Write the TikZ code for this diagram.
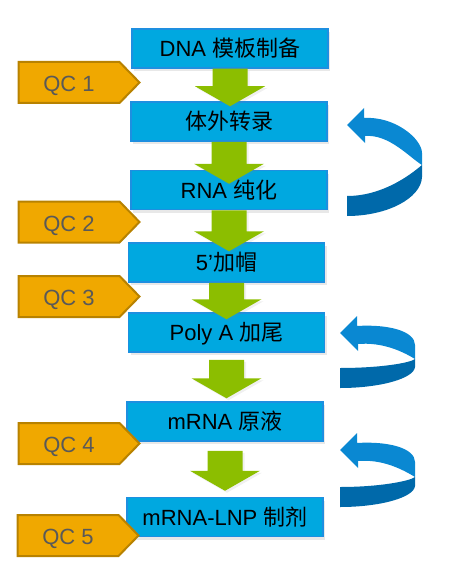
\documentclass[tikz,border=0pt]{standalone}
\usepackage{fontspec}
\setmainfont{Liberation Sans}
\newfontfamily\cjk{Noto Sans CJK SC}
\usepackage{tikz}
\usetikzlibrary{calc,positioning,shadows}
\definecolor{boxblue}{HTML}{00A8E0}
\definecolor{boxedge}{HTML}{1E8FE0}
\definecolor{flowgreen}{HTML}{8CBE00}
\definecolor{qcfill}{HTML}{F0A800}
\definecolor{qcedge}{HTML}{B88200}
\definecolor{qctext}{HTML}{595959}
\definecolor{ribbonlight}{HTML}{0A88D2}
\definecolor{ribbondark}{HTML}{0069AA}
\newcommand{\zh}[1]{{\cjk #1}}
% green block arrow: from node, to node, start offset, tip offset
\newcommand{\flow}[4]{%
  \fill[flowgreen, drop shadow={opacity=0.12, shadow xshift=2pt, shadow yshift=-2pt}]
    let \p1=($(#1.south)+(0,#3)$), \p2=($(#2.north)+(0,#4)$) in
    (\x1-17.5pt,\y1) -- (\x1+17.5pt,\y1) -- (\x1+17.5pt,\y2+20pt) -- (\x1+35pt,\y2+20pt)
    -- (\x1,\y2) -- (\x1-35pt,\y2+20pt) -- (\x1-17.5pt,\y2+20pt) -- cycle;}
% QC tag: name, x, y, label
\newcommand{\qctag}[4]{%
  \filldraw[qcshape] (#2-50.5,#3-20.5) -- (#2+50.5,#3-20.5) -- (#2+70.5,#3)
    -- (#2+50.5,#3+20.5) -- (#2-50.5,#3+20.5) -- cycle;
  \node[qc] (#1) at (#2,#3) {#4};}
% twisted return arrow: tip, outer edge top, twist, dark edge end, band top
\newcommand{\ribbon}[5]{%
  \begin{scope}[shift={#1}]
    \fill[ribbondark] (75,#3) -- (75,#4) .. controls (74,{#4+0.55*(#5+20-#4)}) and (40,#5+20) .. (0,#5+20)
      -- (0,#5) .. controls (40,#5) and (70,#3+4) .. (75,#3) -- cycle;
    \fill[ribbonlight] (0,0) -- (17,-17) -- (17,-7) .. controls (48,-9) and (75,#2-14) .. (75,#2)
      -- (75,#3) .. controls (62,#3-8) and (42,9) .. (18,11) -- (18,18) -- cycle;
  \end{scope}}

\begin{document}
\begin{tikzpicture}[
                    >=latex,
                    x=1pt, y=-1pt,
                    stage/.style={fill=boxblue, draw=boxedge, line width=1.5pt,
                        minimum width=196pt, minimum height=39pt, inner sep=0pt,
                        text height=20pt, text depth=3.6pt, font=\fontsize{22}{26}\selectfont,
                        drop shadow={opacity=0.18, shadow xshift=2pt, shadow yshift=-3pt}},
                    qcshape/.style={fill=qcfill, draw=qcedge, line width=2pt, line join=miter},
                    qc/.style={inner sep=0pt, text height=20pt, text depth=1.6pt,
                        text=qctext, font=\fontsize{22}{26}\selectfont}]

                \useasboundingbox (0,0) rectangle (448,575);

                \draw(230,48.5) node[stage] (dna) {DNA \zh{模板制备}};
                \draw(229,121.5) node[stage] (ivt) {\zh{体外转录}};
                \draw(229,190) node[stage] (pur) {RNA \zh{纯化}};
                \draw(226.5,262.5) node[stage] (cap) {5’\zh{加帽}};
                \draw(226.5,332.5) node[stage] (tail) {Poly A \zh{加尾}};
                \draw(225,421.5) node[stage] (bulk) {mRNA \zh{原液}};
                \draw(225,517) node[stage] (lnp) {mRNA-LNP \zh{制剂}};

                \flow{dna}{ivt}{0}{5}
                \flow{ivt}{pur}{0}{14}
                \flow{pur}{cap}{0}{9}
                \flow{cap}{tail}{0}{7}
                \flow{tail}{bulk}{7}{-3}
                \flow{bulk}{lnp}{9}{-6}

                \qctag{qc1}{69}{82.5}{QC 1}
                \qctag{qc2}{69}{222}{QC 2}
                \qctag{qc3}{69}{296.5}{QC 3}
                \qctag{qc4}{69}{443.5}{QC 4}
                \qctag{qc5}{68}{535.5}{QC 5}

                \ribbon{(347,125)}{28}{40}{52}{71}
                \ribbon{(340,333)}{12}{26}{34}{35}
                \ribbon{(340,450)}{12}{27}{36}{37}

            \end{tikzpicture}
\end{document}
